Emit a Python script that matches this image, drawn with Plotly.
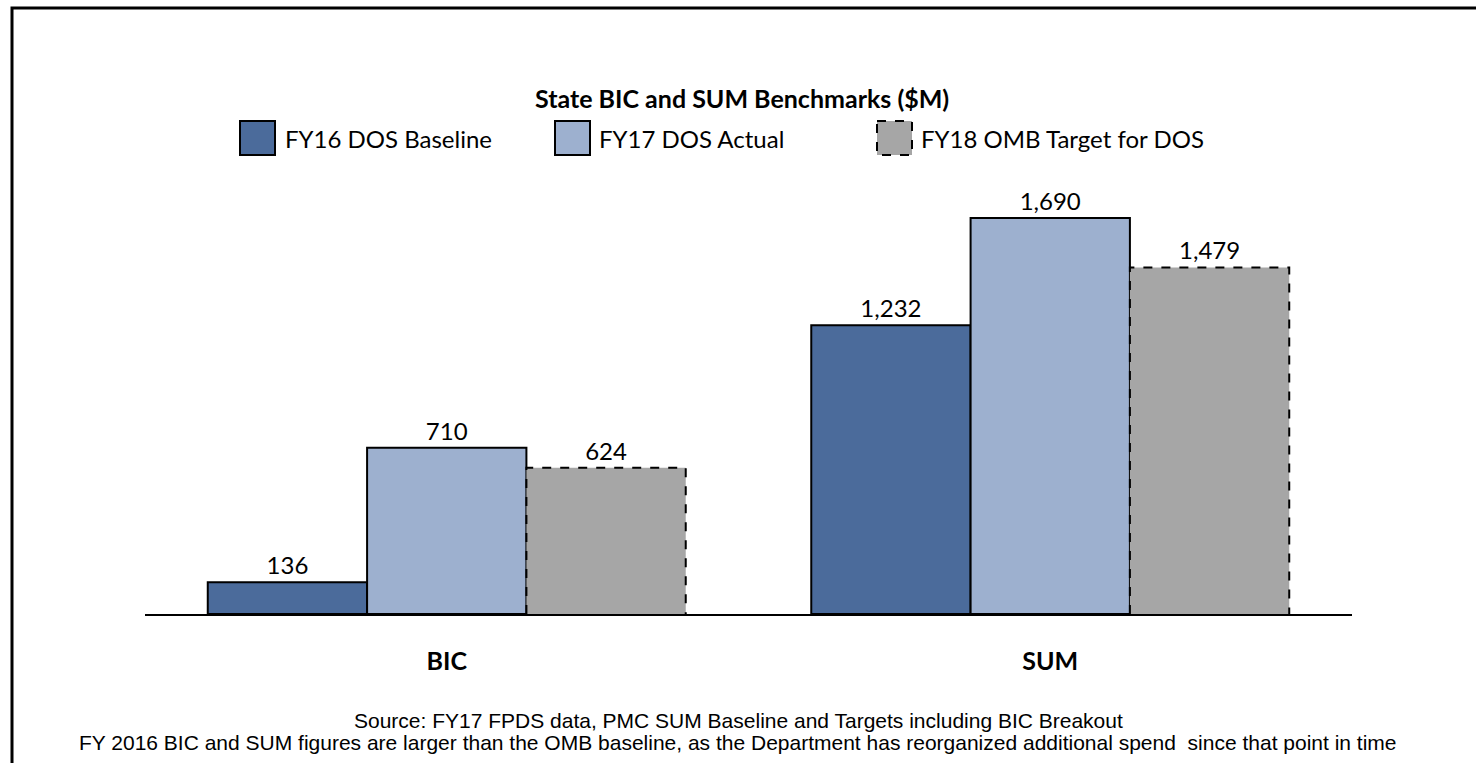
import plotly.graph_objects as go

categories = ["BIC", "SUM"]
series_names = ["FY16 DOS Baseline", "FY17 DOS Actual", "FY18 OMB Target for DOS"]
fy16_baseline = [136, 1232]
fy17_actual = [710, 1690]
fy18_target = [624, 1479]
colors = ["#4B6B9B", "#9DB0CF", "#A6A6A6"]

title_text = "State BIC and SUM Benchmarks ($M)"
footer_lines = [
    "Source: FY17 FPDS data, PMC SUM Baseline and Targets including BIC Breakout",
    "FY 2016 BIC and SUM figures are larger than the OMB baseline, as the Department has reorganized additional spend  since that point in time",
]

W, H = 1476, 763
L, R = 145, 1352
T, B = 180, 614
PW, PH = R - L, B - T

def px(x):
    return (x - L) / PW

def py(y):
    return (B - y) / PH

bw = 0.264
offsets = [-1.5 * bw, -0.5 * bw, 0.5 * bw]
xs = list(range(len(categories)))
FONT = "Lato, Open Sans, sans-serif"
label_font = dict(family=FONT, size=24, color="black")

fig = go.Figure()
all_series = [fy16_baseline, fy17_actual, fy18_target]
for i, (name, vals, col) in enumerate(zip(series_names, all_series, colors)):
    fig.add_trace(go.Bar(
        x=xs, y=vals, name=name, width=bw, offset=offsets[i],
        marker=dict(color=col, line=dict(color="black", width=0 if i == 2 else 2)),
        texttemplate="%{y:,}", textposition="outside", textfont=label_font,
        cliponaxis=False, showlegend=False,
    ))

# dashed outline for the target series
ox, oy = [], []
for xi, v in zip(xs, fy18_target):
    x0 = xi + offsets[2]
    x1 = x0 + bw
    ox += [x0, x0, x1, x1, None]
    oy += [0, v, v, 0, None]
fig.add_trace(go.Scatter(x=ox, y=oy, mode="lines", line=dict(color="black", width=2, dash="dash"),
                         showlegend=False, hoverinfo="skip", cliponaxis=False))

shapes = []
annotations = []
# frame
shapes.append(dict(type="rect", xref="paper", yref="paper", x0=px(12), x1=px(1500), y0=py(8), y1=py(790),
                   line=dict(color="black", width=3), fillcolor="rgba(0,0,0,0)", layer="below"))

# custom legend
leg_boxes = [(240, 275), (555, 590), (877, 912)]
leg_text_x = [283, 597, 919]
for i, ((bx0, bx1), tx) in enumerate(zip(leg_boxes, leg_text_x)):
    shapes.append(dict(type="rect", xref="paper", yref="paper", x0=px(bx0), x1=px(bx1), y0=py(121), y1=py(155),
                       fillcolor=colors[i], line=dict(color="black", width=2, dash="dash" if i == 2 else "solid")))
    annotations.append(dict(xref="paper", yref="paper", x=px(tx), y=py(138), text=series_names[i], showarrow=False,
                            xanchor="left", yanchor="middle", font=dict(family=FONT, size=24, color="black")))

annotations.append(dict(xref="paper", yref="paper", x=px(742), y=py(98), text="<b>" + title_text + "</b>", showarrow=False,
                        xanchor="center", yanchor="middle", font=dict(family=FONT, size=25, color="black")))
for k, line in enumerate(footer_lines):
    annotations.append(dict(xref="paper", yref="paper", x=px(738), y=py(720 + 22 * k), text=line, showarrow=False,
                            xanchor="center", yanchor="middle", font=dict(family="Liberation Sans, Arial, sans-serif", size=21, color="black")))

fig.update_layout(
    width=W, height=H,
    margin=dict(l=L, r=W - R, t=T, b=H - B),
    paper_bgcolor="white", plot_bgcolor="white",
    barmode="overlay",
    shapes=shapes, annotations=annotations,
    showlegend=False,
    xaxis=dict(range=[-0.5, 1.5], tickvals=xs, ticktext=["<b>%s</b>" % c for c in categories],
               tickfont=dict(family=FONT, size=25, color="black"),
               showline=True, linecolor="black", linewidth=2, ticks="", showgrid=False, zeroline=False,
               ticklabelstandoff=24),
    yaxis=dict(range=[0, PH / 0.2343], visible=False, showgrid=False, zeroline=False),
)

fig.write_html("out.html", config={"displayModeBar": False},
               post_script="document.body.style.margin='0';")
